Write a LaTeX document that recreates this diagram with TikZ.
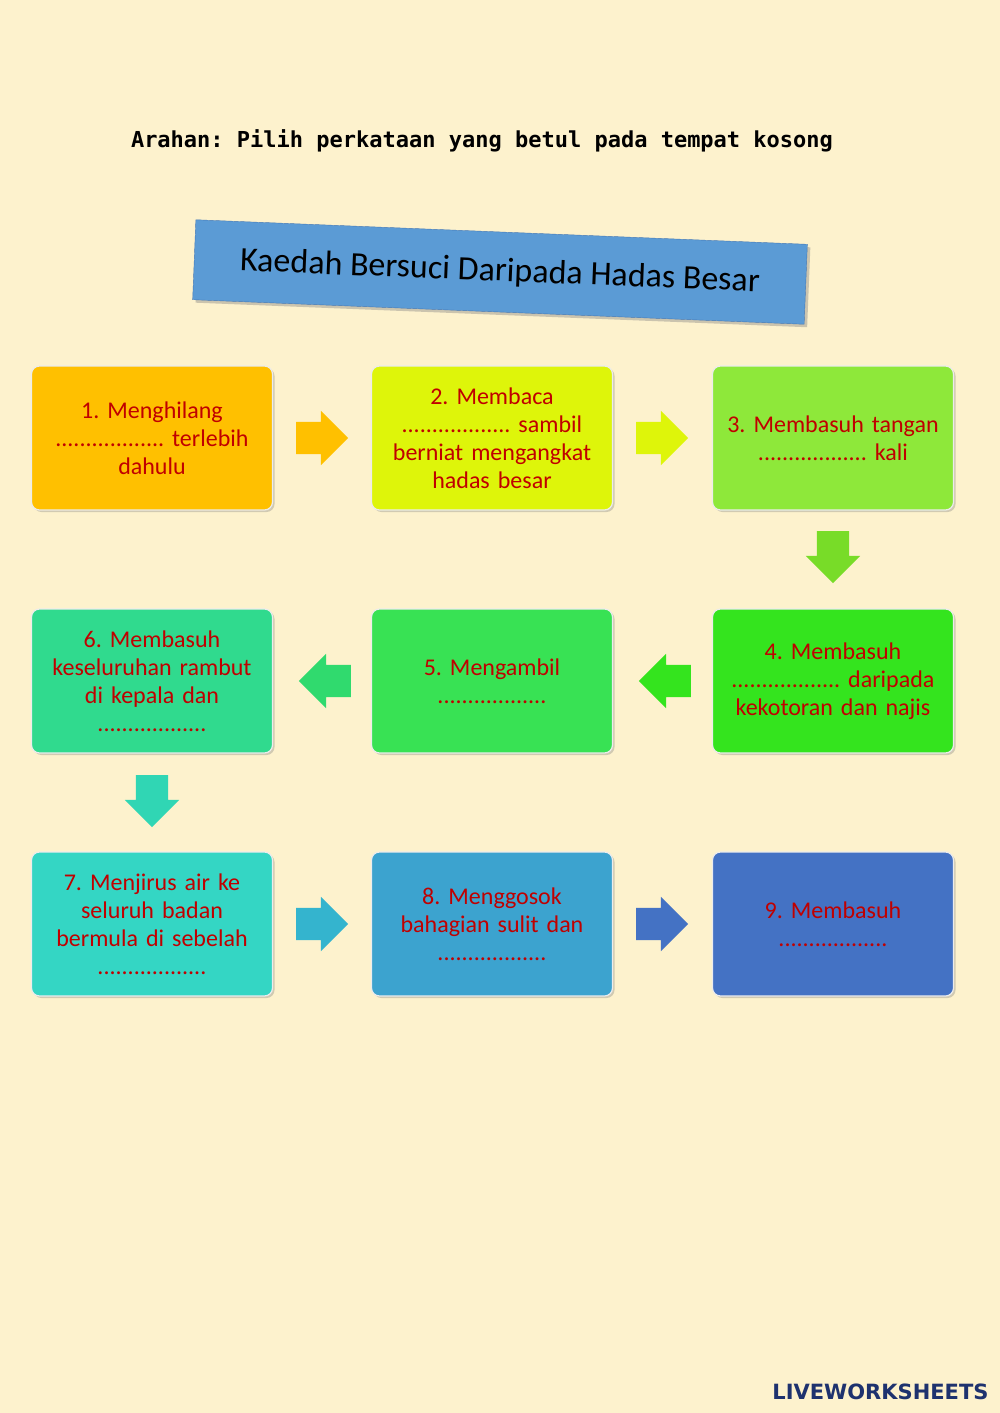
\documentclass[tikz,border=0pt]{standalone}
\usepackage{fontspec}
\setmainfont{Carlito}
\newfontfamily\headf{DejaVu Sans Mono}
\newfontfamily\logof{DejaVu Sans}
\usetikzlibrary{shapes.arrows,shadows}
\definecolor{bg}{HTML}{FDF2CD}
\definecolor{txt}{HTML}{C00000}
\frenchspacing
\tikzset{
 stepbox/.style={draw=white!85!gray,line width=1.2pt,rounded corners=8pt,minimum width=241pt,minimum height=144pt,text width=232pt,align=center,text=txt,font=\fontsize{24}{28}\selectfont,drop shadow={shadow xshift=2pt,shadow yshift=-2pt,opacity=0.35}},
 blk/.style={single arrow,draw=none,single arrow head extend=11pt,minimum height=52pt,inner sep=0pt,single arrow tip angle=90}
}
\newcommand{\shaft}{\rule{20pt}{0pt}\rule{0pt}{32pt}}
\begin{document}
\begin{tikzpicture}[x=1pt,y=-1pt]
\fill[bg] (0,0) rectangle (1000,1413);
\useasboundingbox (0,0) rectangle (1000,1413);
\node[font=\headf\bfseries\fontsize{22}{24}\selectfont] (hd) at (482,141) {Arahan: Pilih perkataan yang betul pada tempat kosong};
\node[fill={rgb,255:red,91;green,155;blue,213},draw={rgb,255:red,70;green,120;blue,180},minimum width=612pt,minimum height=80pt,rotate=-2.3,drop shadow={shadow xshift=3pt,shadow yshift=-3pt,opacity=0.4},font=\fontsize{34}{36}\selectfont] (tt) at (500,272) {Kaedah Bersuci Daripada Hadas Besar};
\node[stepbox,fill={rgb,255:red,255;green,192;blue,0}] (b1) at (152,438) {1. Menghilang\\.................. terlebih\\dahulu};
\node[stepbox,fill={rgb,255:red,222;green,245;blue,10}] (b2) at (492,438) {2. Membaca\\.................. sambil\\berniat mengangkat\\hadas besar};
\node[stepbox,fill={rgb,255:red,142;green,232;blue,58}] (b3) at (833,438) {3. Membasuh tangan\\.................. kali};
\node[stepbox,fill={rgb,255:red,52;green,228;blue,30}] (b4) at (833,681) {4. Membasuh\\.................. daripada\\kekotoran dan najis};
\node[stepbox,fill={rgb,255:red,56;green,226;blue,84}] (b5) at (492,681) {5. Mengambil\\..................\\[8pt]};
\node[stepbox,fill={rgb,255:red,48;green,218;blue,142}] (b6) at (152,681) {6. Membasuh\\keseluruhan rambut\\di kepala dan\\..................};
\node[stepbox,fill={rgb,255:red,52;green,214;blue,196}] (b7) at (152,924) {7. Menjirus air ke\\seluruh badan\\bermula di sebelah\\..................};
\node[stepbox,fill={rgb,255:red,60;green,163;blue,207}] (b8) at (492,924) {8. Menggosok\\bahagian sulit dan\\..................\\[6pt]};
\node[stepbox,fill={rgb,255:red,68;green,114;blue,196}] (b9) at (833,924) {9. Membasuh\\..................\\[6pt]};
\node[blk,fill={rgb,255:red,255;green,192;blue,0}] (a1) at (314,438) {\shaft};
\node[blk,fill={rgb,255:red,222;green,245;blue,10}] (a2) at (654,438) {\shaft};
\node[blk,fill={rgb,255:red,120;green,220;blue,40},rotate=-90] (a3) at (833,549) {\shaft};
\node[blk,fill={rgb,255:red,52;green,228;blue,30},rotate=180] (a4) at (673,681) {\shaft};
\node[blk,fill={rgb,255:red,48;green,218;blue,110},rotate=180] (a5) at (333,681) {\shaft};
\node[blk,fill={rgb,255:red,48;green,214;blue,180},rotate=-90] (a6) at (152,793) {\shaft};
\node[blk,fill={rgb,255:red,52;green,180;blue,206}] (a7) at (314,924) {\shaft};
\node[blk,fill={rgb,255:red,68;green,114;blue,196}] (a8) at (654,924) {\shaft};
\node[font=\logof\bfseries\fontsize{21}{22}\selectfont,text={rgb,255:red,30;green,50;blue,110},anchor=east] (logo) at (992,1392) {LIVEWORKSHEETS};
\end{tikzpicture}
\end{document}
